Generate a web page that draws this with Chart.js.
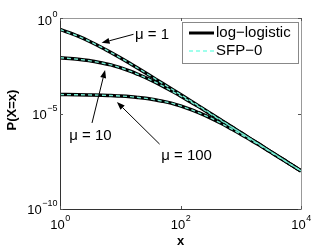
<!DOCTYPE html>
<html>
<head>
<meta charset="utf-8">
<script src="https://cdn.jsdelivr.net/npm/chart.js@4/dist/chart.umd.min.js"></script>
<style>
  html, body { margin: 0; padding: 0; background: #ffffff; }
  canvas { display: block; }
</style>
</head>
<body>
<canvas id="c" width="332" height="250"></canvas>
<script>
// ---- data ----
const xValues = [1, 2, 3, 5, 7, 10, 15, 20, 30, 50, 70, 100, 150, 200, 300, 500, 700, 1000, 1500, 2000, 3000, 5000, 7000, 10000];

const logLogisticMu1   = [0.25, 0.111, 0.0625, 0.0278, 0.0156, 0.00826, 0.0039, 0.00227, 0.00104, 3.8e-4, 1.98e-4, 9.8e-5, 4.4e-5, 2.5e-5, 1.1e-5, 4.0e-6, 2.0e-6, 1.0e-6, 4.4e-7, 2.5e-7, 1.1e-7, 4.0e-8, 2.0e-8, 1.0e-8];
const logLogisticMu10  = [8.3e-3, 6.9e-3, 5.9e-3, 4.4e-3, 3.5e-3, 2.5e-3, 1.6e-3, 1.1e-3, 6.3e-4, 2.8e-4, 1.56e-4, 8.3e-5, 3.9e-5, 2.3e-5, 1.04e-5, 3.8e-6, 2.0e-6, 9.8e-7, 4.4e-7, 2.5e-7, 1.1e-7, 4.0e-8, 2.0e-8, 1.0e-8];
const logLogisticMu100 = [9.8e-5, 9.6e-5, 9.4e-5, 9.1e-5, 8.7e-5, 8.3e-5, 7.6e-5, 6.9e-5, 5.9e-5, 4.4e-5, 3.5e-5, 2.5e-5, 1.6e-5, 1.1e-5, 6.3e-6, 2.8e-6, 1.56e-6, 8.3e-7, 3.9e-7, 2.3e-7, 1.04e-7, 3.8e-8, 2.0e-8, 9.8e-9];

const sfp0Mu1   = [0.25, 0.111, 0.0625, 0.0278, 0.0156, 0.00826, 0.0039, 0.00227, 0.00104, 3.8e-4, 1.98e-4, 9.8e-5, 4.4e-5, 2.5e-5, 1.1e-5, 4.0e-6, 2.0e-6, 1.0e-6, 4.4e-7, 2.5e-7, 1.1e-7, 4.0e-8, 2.0e-8, 1.0e-8];
const sfp0Mu10  = [8.3e-3, 6.9e-3, 5.9e-3, 4.4e-3, 3.5e-3, 2.5e-3, 1.6e-3, 1.1e-3, 6.3e-4, 2.8e-4, 1.56e-4, 8.3e-5, 3.9e-5, 2.3e-5, 1.04e-5, 3.8e-6, 2.0e-6, 9.8e-7, 4.4e-7, 2.5e-7, 1.1e-7, 4.0e-8, 2.0e-8, 1.0e-8];
const sfp0Mu100 = [9.8e-5, 9.6e-5, 9.4e-5, 9.1e-5, 8.7e-5, 8.3e-5, 7.6e-5, 6.9e-5, 5.9e-5, 4.4e-5, 3.5e-5, 2.5e-5, 1.6e-5, 1.1e-5, 6.3e-6, 2.8e-6, 1.56e-6, 8.3e-7, 3.9e-7, 2.3e-7, 1.04e-7, 3.8e-8, 2.0e-8, 9.8e-9];

const seriesNames = ['log\u2212logistic', 'SFP\u22120'];
const xTickExponents = [0, 2, 4];
const yTickExponents = [0, -5, -10];
const xAxisTitle = 'x';
const yAxisTitle = 'P(X=x)';

// annotations: label, label anchor (data coords), arrow tail and head (data coords)
const annotations = [
  { text: '\u03bc = 1',   label: [17.5, 0.135],   align: 'left',   tail: [16.6, 0.14],   head: [4.9, 0.05] },
  { text: '\u03bc = 10',  label: [3.2, 6.6e-7],   align: 'center', tail: [3.4, 3.2e-6],  head: [5.6, 1.9e-3] },
  { text: '\u03bc = 100', label: [126, 5.9e-8],   align: 'center', tail: [45, 2.5e-7],   head: [8.8, 4.0e-5] }
];

// ---- build chart ----
const toPts = arr => xValues.map((x, i) => ({ x: x, y: arr[i] }));
const BLACK = '#000000';
const CYAN = '#74ead0';

function blackDs(arr) {
  return { label: seriesNames[0], data: toPts(arr), borderColor: BLACK, borderWidth: 3.5,
           pointRadius: 0, fill: false, cubicInterpolationMode: 'monotone', order: 2 };
}
function cyanDs(arr) {
  return { label: seriesNames[1], data: toPts(arr), borderColor: CYAN, borderWidth: 1.4,
           borderDash: [4, 3], pointRadius: 0, fill: false, cubicInterpolationMode: 'monotone', order: 1 };
}

const decorPlugin = {
  id: 'decor',
  afterDraw(chart) {
    const ctx = chart.ctx;
    const xs = chart.scales.x, ys = chart.scales.y;
    const a = chart.chartArea;
    ctx.save();

    // box
    ctx.lineWidth = 1;
    ctx.strokeStyle = '#999999';
    ctx.beginPath();
    ctx.moveTo(a.left, a.top + 0.5); ctx.lineTo(a.right + 0.5, a.top + 0.5);
    ctx.lineTo(a.right + 0.5, a.bottom);
    ctx.stroke();
    ctx.strokeStyle = '#333333';
    ctx.beginPath();
    ctx.moveTo(a.left + 0.5, a.top); ctx.lineTo(a.left + 0.5, a.bottom + 0.5);
    ctx.lineTo(a.right + 0.5, a.bottom + 0.5);
    ctx.stroke();

    // ticks (inside)
    const tl = 3;
    ctx.strokeStyle = '#555555';
    ctx.beginPath();
    xTickExponents.forEach(e => {
      const px = Math.round(xs.getPixelForValue(Math.pow(10, e))) + 0.5;
      ctx.moveTo(px, a.bottom); ctx.lineTo(px, a.bottom - tl);
      ctx.moveTo(px, a.top); ctx.lineTo(px, a.top + tl);
    });
    yTickExponents.forEach(e => {
      const py = Math.round(ys.getPixelForValue(Math.pow(10, e))) + 0.5;
      ctx.moveTo(a.left, py); ctx.lineTo(a.left + tl, py);
      ctx.moveTo(a.right, py); ctx.lineTo(a.right - tl, py);
    });
    ctx.stroke();

    // tick labels
    const baseFont = '13px "Liberation Sans", Arial, sans-serif';
    const supFont = '9px "Liberation Sans", Arial, sans-serif';
    ctx.fillStyle = '#000';
    ctx.textBaseline = 'alphabetic';
    function powLabel(e, xRight, yMid, centerX) {
      ctx.font = baseFont;
      const w1 = ctx.measureText('10').width;
      const expStr = (e < 0 ? '\u2212' + (-e) : '' + e);
      ctx.font = supFont;
      const w2 = ctx.measureText(expStr).width;
      let x0 = centerX !== undefined ? centerX - (w1 + w2) / 2 : xRight - (w1 + w2);
      ctx.font = baseFont;
      ctx.textAlign = 'left';
      ctx.fillText('10', x0, yMid + 5);
      ctx.font = supFont;
      ctx.fillText(expStr, x0 + w1 + 0.5, yMid - 3);
    }
    yTickExponents.forEach(e => {
      const py = ys.getPixelForValue(Math.pow(10, e));
      powLabel(e, a.left - 3, py + (e === 0 ? 2 : 0));
    });
    xTickExponents.forEach(e => {
      const px = xs.getPixelForValue(Math.pow(10, e));
      powLabel(e, 0, a.bottom + 15, px);
    });

    // axis titles
    ctx.font = 'bold 13px "Liberation Sans", Arial, sans-serif';
    ctx.textAlign = 'center';
    ctx.textBaseline = 'middle';
    ctx.fillText(xAxisTitle, (a.left + a.right) / 2, 241);
    ctx.save();
    ctx.translate(12, 110);
    ctx.rotate(-Math.PI / 2);
    ctx.fillText(yAxisTitle, 0, 0);
    ctx.restore();

    // annotations
    ctx.font = '15px "Liberation Sans", Arial, sans-serif';
    ctx.textBaseline = 'middle';
    annotations.forEach(an => {
      const tx = xs.getPixelForValue(an.tail[0]), ty = ys.getPixelForValue(an.tail[1]);
      const hx = xs.getPixelForValue(an.head[0]), hy = ys.getPixelForValue(an.head[1]);
      ctx.strokeStyle = '#000'; ctx.fillStyle = '#000'; ctx.lineWidth = 1;
      const ang = Math.atan2(hy - ty, hx - tx);
      const L = 8, W = 3;
      const bx = hx - L * Math.cos(ang), by = hy - L * Math.sin(ang);
      ctx.beginPath(); ctx.moveTo(tx, ty); ctx.lineTo(bx, by); ctx.stroke();
      ctx.beginPath();
      ctx.moveTo(hx, hy);
      ctx.lineTo(bx + W * Math.sin(ang), by - W * Math.cos(ang));
      ctx.lineTo(bx - W * Math.sin(ang), by + W * Math.cos(ang));
      ctx.closePath(); ctx.fill();
      ctx.textAlign = an.align;
      ctx.fillText(an.text, xs.getPixelForValue(an.label[0]), ys.getPixelForValue(an.label[1]));
    });

    // legend
    const lx = 182.5, ly = 22.5, lw = 116, lh = 41;
    ctx.fillStyle = '#fff';
    ctx.fillRect(lx, ly, lw, lh);
    ctx.strokeStyle = '#888'; ctx.lineWidth = 1;
    ctx.strokeRect(lx, ly, lw, lh);
    ctx.strokeStyle = BLACK; ctx.lineWidth = 3; ctx.setLineDash([]);
    ctx.beginPath(); ctx.moveTo(189, 33); ctx.lineTo(214, 33); ctx.stroke();
    ctx.strokeStyle = '#80ffe6'; ctx.lineWidth = 1.4; ctx.setLineDash([4, 3]);
    ctx.beginPath(); ctx.moveTo(189, 51); ctx.lineTo(214, 51); ctx.stroke();
    ctx.setLineDash([]);
    ctx.fillStyle = '#000';
    ctx.font = '15px "Liberation Sans", Arial, sans-serif';
    ctx.textAlign = 'left'; ctx.textBaseline = 'middle';
    ctx.fillText(seriesNames[0], 216, 33);
    ctx.fillText(seriesNames[1], 216, 51);

    ctx.restore();
  }
};

new Chart(document.getElementById('c'), {
  type: 'line',
  data: {
    datasets: [
      cyanDs(sfp0Mu1), cyanDs(sfp0Mu10), cyanDs(sfp0Mu100),
      blackDs(logLogisticMu1), blackDs(logLogisticMu10), blackDs(logLogisticMu100)
    ]
  },
  options: {
    responsive: false,
    animation: false,
    devicePixelRatio: 1,
    layout: { padding: { left: 60, right: 31, top: 18, bottom: 41 } },
    plugins: { legend: { display: false }, tooltip: { enabled: false } },
    scales: {
      x: { type: 'logarithmic', min: 1, max: 10000,
           ticks: { display: false }, grid: { display: false, drawTicks: false }, border: { display: false } },
      y: { type: 'logarithmic', min: 1e-10, max: 1,
           ticks: { display: false }, grid: { display: false, drawTicks: false }, border: { display: false } }
    }
  },
  plugins: [decorPlugin]
});
</script>
</body>
</html>
